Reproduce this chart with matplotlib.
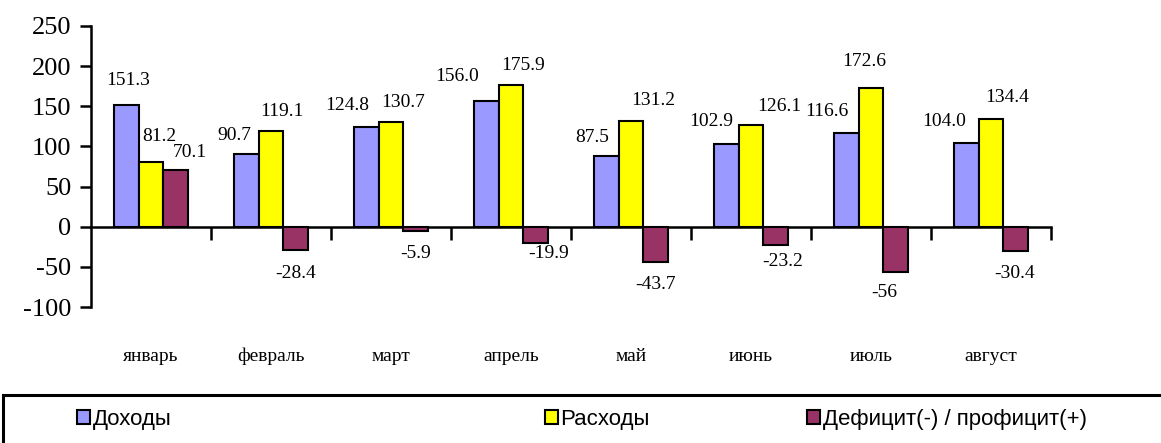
import numpy as np
import matplotlib
matplotlib.use("Agg")
import matplotlib.pyplot as plt
from matplotlib.patches import Rectangle, Patch
import matplotlib.transforms as mtransforms

# данные
months = ["январь", "февраль", "март", "апрель", "май", "июнь", "июль", "август"]
income = [151.3, 90.7, 124.8, 156.0, 87.5, 102.9, 116.6, 104.0]
expense = [81.2, 119.1, 130.7, 175.9, 131.2, 126.1, 172.6, 134.4]
balance = [70.1, -28.4, -5.9, -19.9, -43.7, -23.2, -56, -30.4]
series_names = ["Доходы", "Расходы", "Дефицит(-) / профицит(+)"]
colors = ["#9999FF", "#FFFF00", "#993366"]

# сдвиги подписей (пиксели) относительно вершины столбца
label_off = [
    [(1.5, 25), (-12.5, 18), (-19.5, 21), (-29, 25), (-14, 19), (-15.5, 23), (-20, 22), (-22, 22)],
    [(8, 25), (10.5, 20), (12, 19.5), (12, 20), (22, 21), (28, 19), (-6.5, 27), (16, 21.5)],
    [(14, 18), (0, -24), (0, -22), (13.5, -11), (0.5, -23), (7, -16), (-11.5, -20.5), (-1, -22.5)],
]

plt.rcParams['font.family'] = ['Liberation Serif', 'DejaVu Serif']
plt.rcParams['axes.unicode_minus'] = False

fig = plt.figure(figsize=(11.61, 4.43), dpi=100)
ax = fig.add_axes([91 / 1161, 136 / 443, 960 / 1161, 281 / 443])

x = np.arange(len(months))
w = 0.204
for k, vals in enumerate([income, expense, balance]):
    xs = x + (k - 1) * w
    ax.bar(xs, vals, width=w, color=colors[k], edgecolor="black", linewidth=1.5, zorder=3)
    for xi, v, (dx, dy) in zip(xs, vals, label_off[k]):
        ax.annotate(str(v), (xi, v), xytext=(dx, dy), textcoords="offset pixels",
                    ha="center", va="center", fontsize=14)

ax.set_xlim(-0.5, len(months) - 0.5)
ax.set_ylim(-100, 250)
ax.set_yticks(np.arange(-100, 251, 50))
ax.tick_params(axis="y", direction="out", length=8, width=1.8, pad=6, labelsize=19)

# ось X по нулю, засечки на границах категорий
ax.spines["bottom"].set_position(("data", 0))
ax.spines["bottom"].set_linewidth(1.8)
ax.spines["left"].set_linewidth(1.8)
ax.spines["top"].set_visible(False)
ax.spines["right"].set_visible(False)
ax.set_xticks(x + 0.5)
ax.set_xticklabels([])
ax.tick_params(axis="x", direction="out", length=9.5, width=1.8)

trans = mtransforms.blended_transform_factory(ax.transData, ax.transAxes)
for xi, m in zip(x, months):
    ax.text(xi, -0.177, m, transform=trans, ha="center", va="center", fontsize=14)

# легенда
fig.patches.append(Rectangle((3 / 1161, -0.2), 1.2, 1.2 - 394.5 / 443,
                             transform=fig.transFigure, fill=False,
                             edgecolor="black", linewidth=2.2))
legend_x = [77, 545, 807]
for k in range(3):
    h = Patch(facecolor=colors[k], edgecolor="black", linewidth=1.5)
    fig.legend(handles=[h], labels=[series_names[k]], loc="center left",
               bbox_to_anchor=(legend_x[k] / 1161, 1 - 419 / 443),
               frameon=False, borderpad=0, borderaxespad=0,
               handlelength=0.6, handleheight=0.6, handletextpad=0.1,
               prop={"family": "Liberation Sans", "size": 16})

fig.savefig("out.png", dpi=100)
